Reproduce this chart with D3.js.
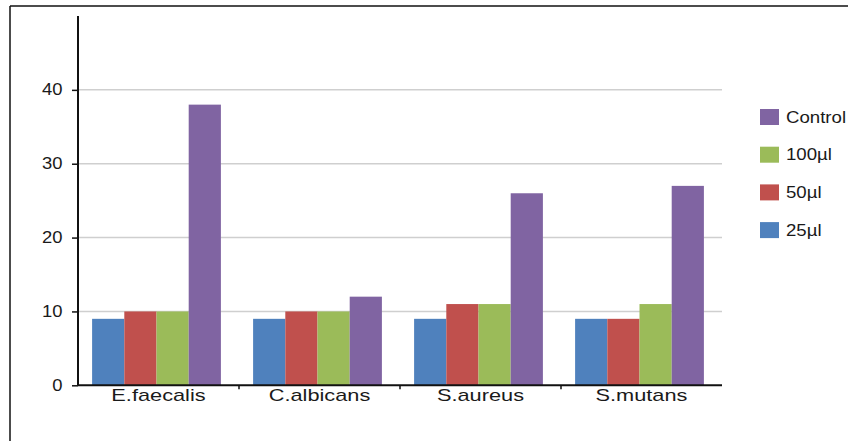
<!DOCTYPE html>
<html>
<head>
<meta charset="utf-8">
<script src="https://cdn.jsdelivr.net/npm/d3@7"></script>
<style>
    body { margin: 0; background: #fff; }
    text { font-family: "Liberation Sans", Arial, sans-serif; fill: #1a1a1a; }
</style>
</head>
<body>
<svg id="chart" width="848" height="441"></svg>
<script>
// chart data
let categories = ["E.faecalis", "C.albicans", "S.aureus", "S.mutans"];
let seriesNames = ["25µl", "50µl", "100µl", "Control"];
let values25 = [9, 9, 9, 9];
let values50 = [10, 10, 11, 9];
let values100 = [10, 10, 11, 11];
let valuesControl = [38, 12, 26, 27];
let yTicks = [0, 10, 20, 30, 40];

let colorScale = d3.scaleOrdinal()
    .domain(seriesNames)
    .range(["#4f81bd", "#c0504d", "#9bbb59", "#8064a2"]);

let seriesValues = [values25, values50, values100, valuesControl];
let rows = categories.map((c, i) => ({
    category: c,
    bars: seriesNames.map((s, j) => ({ series: s, value: seriesValues[j][i] }))
}));

let svg = d3.select("#chart");

// frame: left and top edges only
svg.append("line").attr("x1", 10).attr("y1", 6).attr("x2", 10).attr("y2", 441)
    .attr("stroke", "#111").attr("stroke-width", 1.5);
svg.append("line").attr("x1", 10).attr("y1", 6).attr("x2", 848).attr("y2", 6)
    .attr("stroke", "#111").attr("stroke-width", 1.5);

let plotLeft = 78, plotRight = 722, plotTop = 16, plotBottom = 385.3;

// category slots (separators, labels)
let xCat = d3.scaleBand()
    .domain(categories)
    .range([plotLeft, plotRight]);

// bar groups sit slightly left of slot centre, as in the original
let x0 = d3.scaleBand()
    .domain(categories)
    .range([plotLeft - 2, plotRight - 2])
    .paddingInner(0.2)
    .paddingOuter(0.1);

let x1 = d3.scaleBand()
    .domain(seriesNames)
    .range([0, x0.bandwidth()]);

let y = d3.scaleLinear()
    .domain([0, 50])
    .range([plotBottom, plotTop]);

// gridlines
svg.append("g")
    .selectAll("line")
    .data(yTicks.filter(t => t > 0))
    .join("line")
    .attr("x1", plotLeft)
    .attr("x2", plotRight)
    .attr("y1", d => y(d))
    .attr("y2", d => y(d))
    .attr("stroke", "#cfcfcf")
    .attr("stroke-width", 1.5);

// bars
let groups = svg.append("g")
    .selectAll("g")
    .data(rows)
    .join("g")
    .attr("transform", d => `translate(${x0(d.category)},0)`);

groups.selectAll("rect")
    .data(d => d.bars)
    .join("rect")
    .attr("x", d => x1(d.series))
    .attr("y", d => y(d.value))
    .attr("width", x1.bandwidth())
    .attr("height", d => y(0) - y(d.value))
    .attr("fill", d => colorScale(d.series));

// y axis
let yAxis = svg.append("g")
    .attr("transform", `translate(${plotLeft},0)`)
    .call(d3.axisLeft(y).tickValues(yTicks).tickSize(6).tickPadding(0).tickFormat(d3.format("d")));
yAxis.select(".domain").remove();
yAxis.append("line").attr("x1", 0).attr("x2", 0).attr("y1", plotTop).attr("y2", plotBottom)
    .attr("stroke", "#111").attr("stroke-width", 2);
yAxis.selectAll(".tick line").attr("stroke", "#111").attr("stroke-width", 1.5);
yAxis.selectAll(".tick text")
    .attr("x", null)
    .attr("transform", "translate(-15.5,0) scale(1.15,1)")
    .style("font-size", "16px")
    .attr("fill", "#1a1a1a");

// x axis
let xAxis = svg.append("g").attr("transform", `translate(0,${plotBottom})`);
xAxis.append("line").attr("x1", plotLeft).attr("x2", plotRight).attr("y1", 0).attr("y2", 0)
    .attr("stroke", "#111").attr("stroke-width", 2);
xAxis.selectAll(".sep")
    .data(categories.slice(1))
    .join("line")
    .attr("class", "sep")
    .attr("x1", d => xCat(d))
    .attr("x2", d => xCat(d))
    .attr("y1", 0).attr("y2", 4)
    .attr("stroke", "#111").attr("stroke-width", 1.5);
xAxis.selectAll(".label")
    .data(categories)
    .join("text")
    .attr("class", "label")
    .attr("transform", d => `translate(${xCat(d) + xCat.bandwidth() / 2},15.5) scale(1.28,1)`)
    .attr("text-anchor", "middle")
    .style("font-size", "17px")
    .text(d => d);

// legend (reverse order, Control on top)
let legend = svg.append("g")
    .selectAll("g")
    .data(seriesNames.slice().reverse())
    .join("g")
    .attr("transform", (d, i) => `translate(760,${109 + i * 37.7})`);
legend.append("rect")
    .attr("width", 19)
    .attr("height", 16)
    .attr("fill", d => colorScale(d));
legend.append("text")
    .attr("transform", "translate(26,8) scale(1.13,1)")
    .attr("dy", "0.35em")
    .style("font-size", "16.5px")
    .text(d => d);
</script>
</body>
</html>
